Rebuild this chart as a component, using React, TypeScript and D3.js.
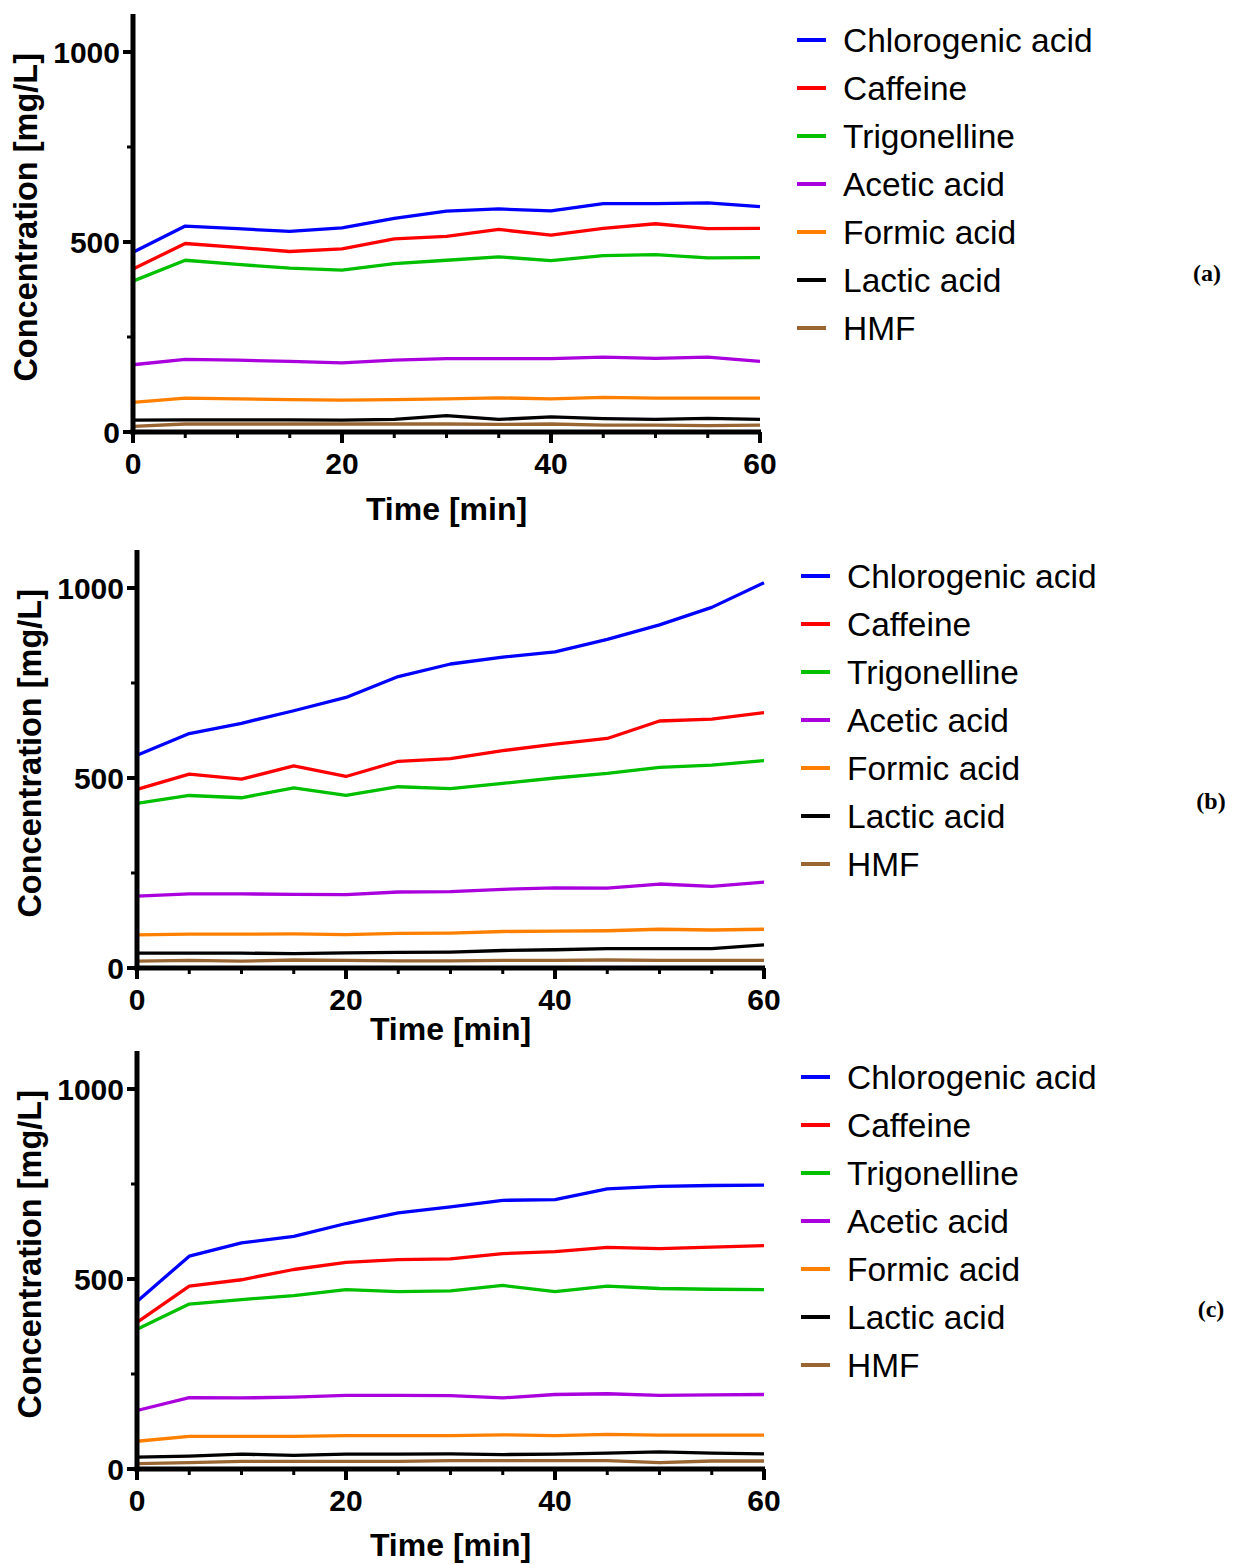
import React from "react";
import * as d3 from "d3";

const times = [0, 5, 10, 15, 20, 25, 30, 35, 40, 45, 50, 55, 60];
const seriesNames = [
  "Chlorogenic acid",
  "Caffeine",
  "Trigonelline",
  "Acetic acid",
  "Formic acid",
  "Lactic acid",
  "HMF",
];
const seriesColors = ["#0000ff", "#ff0000", "#00c000", "#aa00dd", "#ff8000", "#000000", "#996633"];

// panel (a)
const chlorA = [473, 542, 535, 528, 537, 562, 581, 587, 582, 601, 601, 603, 593];
const caffA = [429, 496, 486, 475, 482, 508, 515, 533, 518, 536, 548, 535, 536];
const trigA = [397, 452, 441, 431, 426, 443, 452, 461, 451, 464, 467, 458, 459];
const aceA = [177, 191, 189, 186, 182, 189, 193, 193, 193, 197, 194, 197, 186];
const formA = [78, 89, 87, 85, 84, 85, 87, 90, 87, 91, 89, 89, 89];
const lacA = [31, 32, 32, 32, 31, 33, 43, 33, 40, 35, 33, 36, 33];
const hmfA = [15, 21, 21, 21, 21, 21, 21, 20, 21, 18, 18, 17, 18];

// panel (b)
const chlorB = [560, 617, 644, 677, 712, 767, 800, 818, 832, 865, 903, 949, 1014];
const caffB = [470, 510, 497, 532, 504, 544, 551, 572, 589, 604, 650, 655, 672];
const trigB = [433, 454, 448, 474, 454, 477, 472, 486, 500, 512, 528, 534, 546];
const aceB = [189, 195, 195, 194, 193, 200, 201, 207, 211, 210, 221, 215, 226];
const formB = [87, 89, 89, 90, 88, 91, 92, 96, 97, 98, 102, 100, 102];
const lacB = [39, 39, 39, 38, 40, 41, 42, 46, 48, 51, 51, 51, 61];
const hmfB = [18, 20, 18, 21, 20, 19, 19, 20, 20, 21, 20, 20, 20];

// panel (c)
const chlorC = [441, 560, 595, 612, 646, 674, 690, 707, 709, 737, 744, 746, 747];
const caffC = [386, 481, 498, 525, 544, 551, 553, 567, 572, 583, 580, 584, 588];
const trigC = [368, 434, 446, 456, 472, 467, 469, 483, 467, 481, 475, 473, 472];
const aceC = [154, 188, 187, 189, 194, 194, 193, 187, 196, 198, 194, 195, 196];
const formC = [73, 86, 86, 86, 88, 88, 88, 90, 88, 91, 89, 89, 89];
const lacC = [31, 34, 39, 36, 39, 39, 40, 38, 39, 42, 45, 42, 40];
const hmfC = [14, 17, 20, 20, 20, 20, 22, 22, 22, 22, 17, 21, 21];

const yMajor = [0, 500, 1000];
const yMinor = [250, 750];
const xMajor = [0, 20, 40, 60];
const xMinor = [5, 10, 15, 25, 30, 35, 45, 50, 55];

const panels = [
  { label: "(a)", left: 133, right: 760, zero: 432, thousand: 52, titleGap: 88, legendX: 797, legendY: 40, labelX: 1207, labelY: 281,
    series: [chlorA, caffA, trigA, aceA, formA, lacA, hmfA] },
  { label: "(b)", left: 137, right: 764, zero: 968, thousand: 588, titleGap: 72, legendX: 801, legendY: 576, labelX: 1211, labelY: 809,
    series: [chlorB, caffB, trigB, aceB, formB, lacB, hmfB] },
  { label: "(c)", left: 137, right: 764, zero: 1469, thousand: 1089, titleGap: 87, legendX: 801, legendY: 1077, labelX: 1211, labelY: 1317,
    series: [chlorC, caffC, trigC, aceC, formC, lacC, hmfC] },
];

const sans = "'Liberation Sans', Arial, Helvetica, sans-serif";

function Panel({ p }: { p: (typeof panels)[number] }) {
  const x = d3.scaleLinear().domain([0, 60]).range([p.left, p.right]);
  const y = d3.scaleLinear().domain([0, 1000]).range([p.zero, p.thousand]);
  const line = d3
    .line<number>()
    .x((_, i) => x(times[i]))
    .y((d) => y(d));
  const axisW = 5;

  return (
    <g>
      {/* data */}
      {p.series
        .map((vals, i) => ({ vals, i }))
        .reverse()
        .map(({ vals, i }) => (
          <path
            key={i}
            d={line(vals) || ""}
            fill="none"
            stroke={seriesColors[i]}
            strokeWidth={3.3}
            strokeLinejoin="round"
          />
        ))}

      {/* y axis */}
      <line x1={x(0)} x2={x(0)} y1={y(0) + axisW / 2} y2={y(1100)} stroke="#000" strokeWidth={axisW} />
      {yMajor.map((v) => (
        <g key={v}>
          <line x1={x(0)} x2={x(0) - 10} y1={y(v)} y2={y(v)} stroke="#000" strokeWidth={4} />
          <text
            x={x(0) - 13}
            y={y(v)}
            dy="0.36em"
            textAnchor="end"
            fontFamily={sans}
            fontWeight="bold"
            fontSize={30}
          >
            {v}
          </text>
        </g>
      ))}
      {yMinor.map((v) => (
        <line key={v} x1={x(0)} x2={x(0) - 6} y1={y(v)} y2={y(v)} stroke="#000" strokeWidth={3} />
      ))}

      {/* x axis */}
      <line x1={x(0) - axisW / 2} x2={x(60) + 1} y1={y(0)} y2={y(0)} stroke="#000" strokeWidth={axisW} />
      {xMajor.map((v) => (
        <g key={v}>
          <line x1={x(v)} x2={x(v)} y1={y(0)} y2={y(0) + 11} stroke="#000" strokeWidth={4} />
          <text
            x={x(v)}
            y={y(0) + 42}
            textAnchor="middle"
            fontFamily={sans}
            fontWeight="bold"
            fontSize={30}
          >
            {v}
          </text>
        </g>
      ))}
      {xMinor.map((v) => (
        <line key={v} x1={x(v)} x2={x(v)} y1={y(0)} y2={y(0) + 6} stroke="#000" strokeWidth={3} />
      ))}

      {/* axis titles */}
      <text
        x={(p.left + p.right) / 2}
        y={y(0) + p.titleGap}
        textAnchor="middle"
        fontFamily={sans}
        fontWeight="bold"
        fontSize={32}
      >
        Time [min]
      </text>
      <text
        transform={`translate(${p.left - 96},${y(565)}) rotate(-90)`}
        textAnchor="middle"
        fontFamily={sans}
        fontWeight="bold"
        fontSize={32.5}
      >
        Concentration [mg/L]
      </text>

      {/* legend */}
      {seriesNames.map((name, i) => (
        <g key={name} transform={`translate(${p.legendX},${p.legendY + i * 48})`}>
          <line x1={0} x2={29} y1={0} y2={0} stroke={seriesColors[i]} strokeWidth={4} />
          <text x={46} y={0} dy="0.36em" fontFamily={sans} fontSize={33.5}>
            {name}
          </text>
        </g>
      ))}

      <text
        x={p.labelX}
        y={p.labelY}
        textAnchor="middle"
        fontFamily="'Liberation Serif', 'Times New Roman', serif"
        fontWeight="bold"
        fontSize={24}
      >
        {p.label}
      </text>
    </g>
  );
}

export default function App() {
  return (
    <svg
      width={1235}
      height={1564}
      style={{ position: "absolute", left: 0, top: 0, background: "#fff" }}
    >
      {panels.map((p) => (
        <Panel key={p.label} p={p} />
      ))}
    </svg>
  );
}
